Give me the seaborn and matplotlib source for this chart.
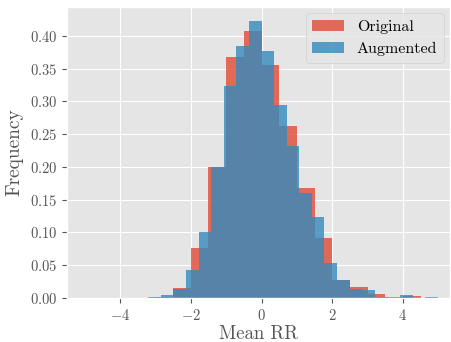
import matplotlib
matplotlib.use("Agg")
import matplotlib.pyplot as plt
import seaborn as sns
import numpy as np

# Original series: bin edges and densities
orig_edges = [-3.0, -2.5, -2.0, -1.5, -1.0, -0.5, 0.0, 0.5, 1.0, 1.5, 2.0,
              2.5, 3.0, 3.5, 4.0, 4.5]
orig_density = [0.002, 0.016, 0.076, 0.200, 0.367, 0.407, 0.355, 0.262,
                0.168, 0.092, 0.028, 0.017, 0.006, 0.001, 0.003]

# Augmented series
aug_edges = [-3.21, -2.85, -2.50, -2.14, -1.78, -1.43, -1.07, -0.71, -0.36,
             0.00, 0.36, 0.71, 1.07, 1.43, 1.78, 2.14, 2.50, 2.85, 3.21,
             3.57, 3.92, 4.28, 4.63, 4.99]
aug_density = [0.001, 0.004, 0.014, 0.042, 0.100, 0.200, 0.324, 0.385,
               0.423, 0.377, 0.294, 0.232, 0.160, 0.124, 0.054, 0.0275,
               0.013, 0.012, 0.002, 0.0, 0.004, 0.0, 0.001]

labels = ["Original", "Augmented"]
colors = ["#E24A33", "#348ABD"]

plt.style.use("ggplot")
plt.rcParams["font.family"] = "serif"
plt.rcParams["font.serif"] = ["cmr10"]
plt.rcParams["mathtext.fontset"] = "cm"
plt.rcParams["axes.formatter.use_mathtext"] = True

fig = plt.figure(figsize=(4.51, 3.42), dpi=100)
ax = fig.add_axes([67 / 451, 1 - 298 / 342, (450 - 67) / 451, (298 - 7) / 342])

for edges, dens, lab, col in [(orig_edges, orig_density, labels[0], colors[0]),
                              (aug_edges, aug_density, labels[1], colors[1])]:
    e = np.array(edges)
    centers = (e[:-1] + e[1:]) / 2
    sns.histplot(x=centers, weights=dens, bins=edges, ax=ax, color=col,
                 alpha=0.8, linewidth=0, stat="count", label=lab)

ax.set_xlim(-5.5, 5.33)
ax.set_ylim(0, 0.444)
ax.set_xticks([-4, -2, 0, 2, 4])
ax.set_yticks(np.arange(0, 0.41, 0.05))
ax.set_xlabel("Mean RR", fontsize=13.5, labelpad=2)
ax.set_ylabel("Frequency", fontsize=14, labelpad=5)
ax.tick_params(labelsize=10.5)
ax.legend(loc="upper right", fontsize=11.5, borderaxespad=0.4)

fig.savefig("out.png", dpi=100)
